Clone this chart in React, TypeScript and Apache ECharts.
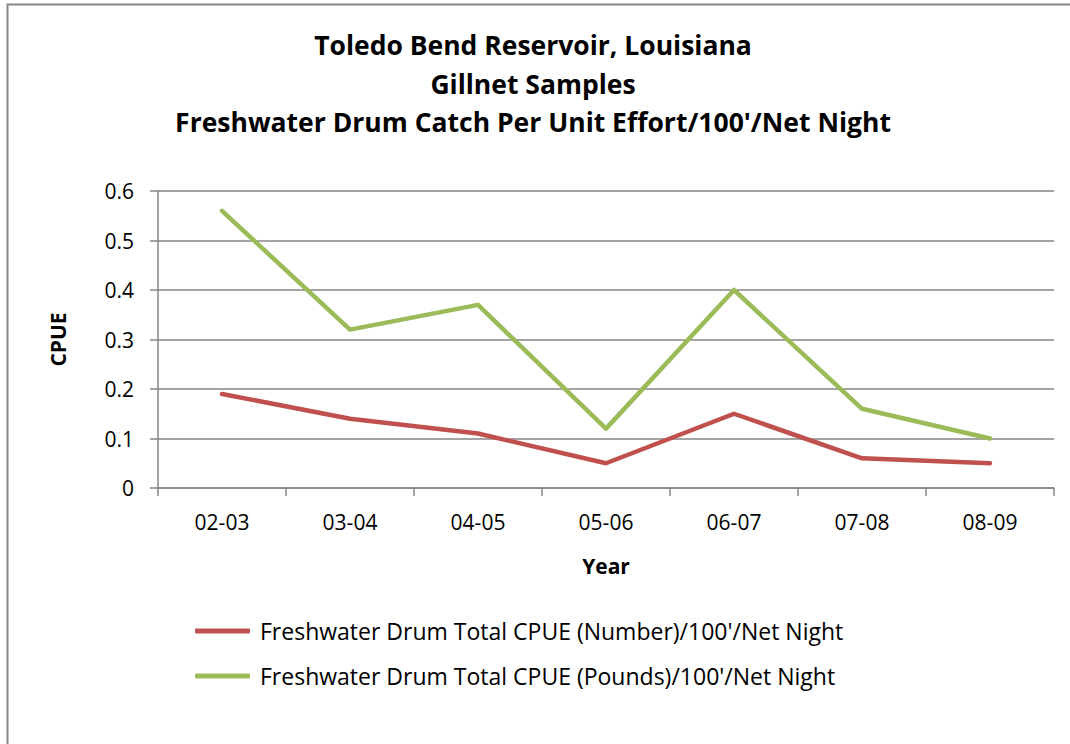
import React, { useEffect, useRef } from "react";
import * as echarts from "echarts";

const categories = ["02-03", "03-04", "04-05", "05-06", "06-07", "07-08", "08-09"];
const numberSeries = [0.19, 0.14, 0.11, 0.05, 0.15, 0.06, 0.05];
const poundsSeries = [0.56, 0.32, 0.37, 0.12, 0.4, 0.16, 0.1];
const seriesNames = [
  "Freshwater Drum Total CPUE (Number)/100'/Net Night",
  "Freshwater Drum Total CPUE (Pounds)/100'/Net Night",
];
const titleText = "Toledo Bend Reservoir, Louisiana\nGillnet Samples\nFreshwater Drum Catch Per Unit Effort/100'/Net Night";

const FONT = "'Open Sans', 'Noto Sans', sans-serif";

export default function App() {
  const ref = useRef<HTMLDivElement>(null);
  useEffect(() => {
    document.body.style.margin = "0";
    const chart = echarts.init(ref.current!, null, { renderer: "svg" });
    chart.setOption({
      animation: false,
      backgroundColor: "#fff",
      textStyle: { fontFamily: FONT },
      graphic: [
        {
          type: "rect",
          shape: { x: 7.5, y: 4.5, width: 1200, height: 900 },
          style: { fill: "none", stroke: "#878787", lineWidth: 2 },
          silent: true,
        },
      ],
      title: {
        text: titleText,
        left: 533,
        textAlign: "center",
        top: 26,
        padding: 0,
        textStyle: { fontFamily: FONT, fontSize: 26.5, fontWeight: "bold", color: "#000", lineHeight: 38.5 },
      },
      legend: {
        orient: "vertical",
        left: 195,
        top: 617,
        icon: "roundRect",
        itemWidth: 55,
        itemHeight: 5,
        itemGap: 17,
        padding: 0,
        textStyle: { fontFamily: FONT, fontSize: 23, color: "#000", lineHeight: 28, padding: [0, 0, 0, 5] },
        data: seriesNames,
      },
      grid: { left: 158, right: 16, top: 191, bottom: 256, containLabel: false },
      xAxis: {
        type: "category",
        data: categories,
        boundaryGap: true,
        name: "Year",
        nameLocation: "middle",
        nameGap: 67,
        nameTextStyle: { fontFamily: FONT, fontSize: 21, fontWeight: "bold", color: "#000" },
        axisLine: { lineStyle: { color: "#868686", width: 1.5 } },
        axisTick: { show: true, length: 8, alignWithLabel: false, lineStyle: { color: "#868686", width: 1.5 } },
        axisLabel: { fontFamily: FONT, fontSize: 21, color: "#000", margin: 23 },
      },
      yAxis: {
        type: "value",
        min: 0,
        max: 0.6,
        interval: 0.1,
        name: "CPUE",
        nameLocation: "middle",
        nameRotate: 90,
        nameGap: 90,
        nameTextStyle: { fontFamily: FONT, fontSize: 21, fontWeight: "bold", color: "#000" },
        axisLine: { show: true, lineStyle: { color: "#868686", width: 1.5 } },
        axisTick: { show: true, length: 8, lineStyle: { color: "#868686", width: 1.5 } },
        axisLabel: { fontFamily: FONT, fontSize: 21, color: "#000", margin: 24 },
        splitLine: { show: true, lineStyle: { color: "#868686", width: 1.5 } },
      },
      series: [
        {
          name: seriesNames[0],
          type: "line",
          data: numberSeries,
          symbol: "none",
          lineStyle: { color: "#C0504D", width: 4.5, cap: "round", join: "round" },
          itemStyle: { color: "#C0504D" },
        },
        {
          name: seriesNames[1],
          type: "line",
          data: poundsSeries,
          symbol: "none",
          lineStyle: { color: "#9BBB59", width: 4.5, cap: "round", join: "round" },
          itemStyle: { color: "#9BBB59" },
        },
      ],
    });
    return () => chart.dispose();
  }, []);
  return <div ref={ref} style={{ width: 1070, height: 744 }} />;
}
